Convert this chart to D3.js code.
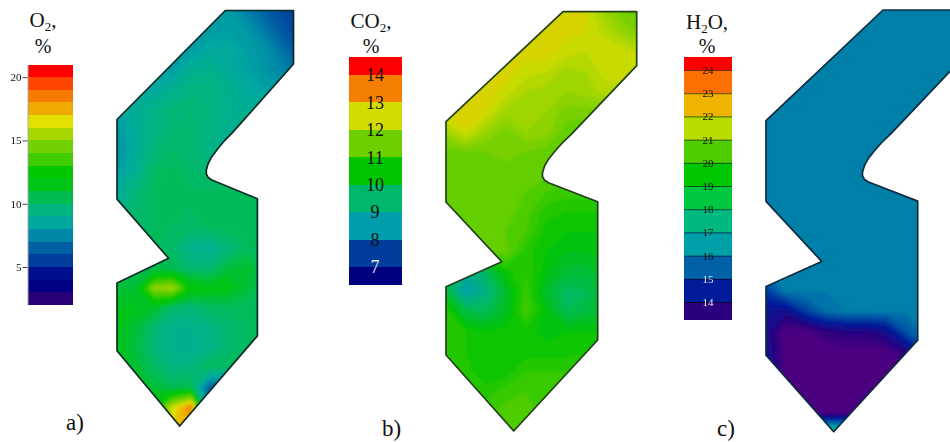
<!DOCTYPE html>
<html>
<head>
<meta charset="utf-8">
<script src="https://cdn.jsdelivr.net/npm/d3@7"></script>
<style>
body { margin: 0; background: #fff; }
text { font-family: "Liberation Serif", serif; fill: #111; }
</style>
</head>
<body>
<div id="my_dataviz"></div>
<script>
// furnace outline in metres-like units, shared by the three panels
var outlineX = [11.7, 19.07, 19.07, 12.5, 11.6, 10.85, 10.25, 9.85, 9.65, 9.65, 9.85, 10.25, 15.17, 15.17, 6.77, 0, 0, 5.57, 0, 0]
var outlineY = [0, 0, 5.4, 12.3, 13.15, 14.0, 14.75, 15.45, 16.1, 16.5, 16.85, 17.1, 19.0, 32.83, 41.93, 34.33, 27.5, 25.0, 19.03, 11.0]

// colour keys: value at the middle of each legend band
var o2Levels = [2.5, 3.5, 4.5, 5.5, 6.5, 7.5, 8.5, 9.5, 10.5, 11.5, 12.5, 13.5, 14.5, 15.5, 16.5, 17.5, 18.5, 19.5, 20.5]
var o2Colors = ["#2a0078", "#000084", "#00108c", "#003c9c", "#0060a4", "#0088a8", "#00a8a0", "#00b480", "#00bc50", "#00c418", "#00c800", "#3fcc00", "#72cf00", "#a6d800", "#e2e000", "#eeaa00", "#f57a00", "#ff4500", "#ff0000"]
var o2Edges = [2, 3, 4, 5, 6, 7, 8, 9, 10, 11, 12, 13, 14, 15, 16, 17, 18, 19, 20, 21]
var o2Ticks = [5, 10, 15, 20]

var co2Levels = [6.5, 7.5, 8.5, 9.5, 10.5, 11.5, 12.5, 13.5, 14.5]
var co2Colors = ["#00007f", "#003c9c", "#009eaa", "#00b86a", "#00c400", "#6ecf00", "#d2dc00", "#f57f00", "#ff0000"]
var co2Edges = [6.35, 7, 8, 9, 10, 11, 12, 13, 14, 14.65]
var co2Ticks = [7, 8, 9, 10, 11, 12, 13, 14]

var h2oLevels = [13, 13.5, 14.5, 15.5, 16.5, 17.5, 18.5, 19.5, 20.5, 21.5, 22.5, 23.5, 24.5]
var h2oColors = ["#4b0082", "#2a007f", "#001c98", "#0060a8", "#00a0a8", "#00b880", "#00c840", "#00c800", "#50cc00", "#b8dc00", "#eeb400", "#fb6f00", "#ff0000"]
var h2oEdges = [13.22, 14, 15, 16, 17, 18, 19, 20, 21, 22, 23, 24, 24.56]
var h2oTicks = [14, 15, 16, 17, 18, 19, 20, 21, 22, 23, 24]

// concentrations, rows every 2 units down, columns every 2 units across
var o2Field = [
    [8.1, 8.1, 8.1, 8.1, 8.1, 8.1, 8.1, 7.3, 6.5, 5.8, 5.2],
    [8.1, 8.1, 8.1, 8.1, 8.1, 8.1, 8.2, 8.0, 7.1, 6.2, 5.6],
    [8.1, 8.1, 8.1, 8.1, 8.2, 8.6, 8.6, 8.2, 7.8, 6.9, 6.0],
    [8.2, 8.2, 8.2, 8.2, 9.0, 9.2, 8.8, 8.3, 7.9, 7.4, 6.8],
    [8.2, 8.3, 8.6, 9.1, 9.5, 9.5, 9.1, 8.7, 8.3, 8.0, 8.0],
    [8.3, 8.9, 9.3, 9.7, 9.8, 9.6, 9.2, 9.0, 9.0, 9.0, 9.0],
    [8.0, 8.8, 9.5, 9.8, 9.8, 9.5, 9.1, 9.0, 9.0, 9.0, 9.0],
    [7.8, 8.7, 9.7, 10.0, 9.9, 9.4, 9.0, 9.0, 9.0, 9.0, 9.0],
    [8.0, 9.0, 10.1, 10.3, 10.0, 9.7, 9.5, 9.5, 9.5, 9.5, 9.5],
    [8.6, 9.6, 10.2, 10.2, 10.2, 10.2, 10.2, 10.2, 10.2, 10.2, 10.2],
    [9.2, 9.9, 10.2, 10.2, 10.2, 10.2, 10.2, 10.2, 10.2, 10.2, 10.2],
    [9.7, 10.0, 10.2, 10.2, 10.0, 10.2, 10.2, 10.2, 10.2, 10.2, 10.2],
    [10.2, 10.2, 10.2, 10.0, 9.2, 9.0, 9.7, 10.2, 10.2, 10.2, 10.2],
    [10.4, 10.4, 10.5, 10.5, 9.8, 9.8, 10.9, 11.2, 10.4, 10.2, 10.2],
    [11.0, 11.0, 15.0, 15.5, 12.2, 11.8, 11.8, 11.0, 10.3, 10.2, 10.2],
    [11.4, 11.4, 11.2, 10.0, 9.7, 10.2, 10.2, 10.2, 10.2, 10.2, 10.2],
    [11.5, 11.0, 9.8, 9.2, 9.2, 9.4, 9.9, 10.2, 10.2, 10.2, 10.2],
    [11.5, 10.8, 9.7, 9.1, 9.0, 9.3, 9.9, 10.2, 10.2, 10.2, 10.2],
    [11.4, 11.1, 10.2, 9.5, 9.7, 10.3, 10.2, 10.2, 10.2, 10.2, 10.2],
    [11.4, 11.4, 10.9, 10.4, 10.5, 6.5, 6.5, 6.5, 6.5, 6.5, 6.5],
    [11.5, 11.5, 12.2, 16.0, 18.4, 7.0, 7.0, 7.0, 7.0, 7.0, 7.0],
    [12.0, 12.0, 14.0, 17.0, 17.5, 7.0, 7.0, 7.0, 7.0, 7.0, 7.0]
]

var co2Field = [
    [12.5, 12.5, 12.5, 12.5, 12.5, 12.5, 12.6, 12.5, 11.9, 11.5, 11.3],
    [12.5, 12.5, 12.5, 12.5, 12.5, 12.5, 12.6, 12.5, 12.2, 11.8, 11.6],
    [12.5, 12.5, 12.5, 12.5, 12.6, 12.7, 12.4, 12.3, 12.5, 12.4, 12.2],
    [12.5, 12.5, 12.5, 12.6, 12.4, 12.3, 12.0, 12.1, 12.4, 12.4, 12.4],
    [12.6, 12.6, 12.7, 12.4, 12.1, 12.0, 11.9, 12.0, 12.2, 12.2, 12.2],
    [12.6, 12.7, 12.5, 12.0, 12.0, 11.9, 11.6, 11.6, 11.6, 11.6, 11.6],
    [12.0, 12.5, 11.9, 11.6, 11.9, 11.8, 11.4, 11.3, 11.3, 11.3, 11.3],
    [11.4, 11.5, 11.5, 11.6, 11.5, 11.4, 11.3, 11.3, 11.3, 11.3, 11.3],
    [11.4, 11.4, 11.4, 11.4, 11.4, 11.4, 11.3, 11.3, 11.3, 11.3, 11.3],
    [11.4, 11.4, 11.4, 11.4, 11.3, 11.1, 11.0, 11.0, 11.0, 11.0, 11.0],
    [11.4, 11.4, 11.4, 11.4, 11.2, 10.8, 10.7, 10.7, 10.7, 10.7, 10.7],
    [11.4, 11.4, 11.4, 11.3, 11.1, 10.6, 10.5, 10.5, 10.5, 10.5, 10.5],
    [11.3, 11.3, 11.3, 11.4, 10.8, 10.5, 10.3, 10.3, 10.4, 10.4, 10.4],
    [9.6, 8.9, 9.6, 10.6, 10.9, 10.4, 10.0, 10.0, 10.2, 10.2, 10.2],
    [10.0, 8.5, 9.2, 10.1, 11.0, 10.1, 9.6, 9.7, 10.0, 10.0, 10.0],
    [10.8, 9.9, 9.7, 10.2, 11.1, 10.4, 9.7, 9.9, 10.1, 10.1, 10.1],
    [10.9, 10.7, 10.5, 10.6, 10.6, 10.4, 10.5, 10.5, 10.5, 10.5, 10.5],
    [10.9, 10.7, 10.5, 10.5, 10.6, 10.6, 10.6, 10.7, 10.7, 10.7, 10.7],
    [10.9, 10.8, 10.5, 10.6, 10.9, 10.9, 10.9, 10.9, 10.9, 10.9, 10.9],
    [11.0, 10.9, 10.8, 11.0, 11.1, 11.0, 11.0, 11.0, 11.0, 11.0, 11.0],
    [11.0, 11.0, 11.0, 11.2, 11.2, 11.0, 11.0, 11.0, 11.0, 11.0, 11.0],
    [11.1, 11.1, 11.1, 11.1, 11.1, 11.1, 11.1, 11.1, 11.1, 11.1, 11.1]
]

var h2oField = [
    [15.9, 15.9, 15.9, 15.9, 15.9, 15.9, 15.9, 15.9, 15.9, 15.9, 15.9],
    [15.9, 15.9, 15.9, 15.9, 15.9, 15.9, 15.9, 15.9, 15.9, 15.9, 15.9],
    [15.9, 15.9, 15.9, 15.9, 15.9, 15.9, 15.9, 15.9, 15.9, 15.9, 15.9],
    [15.9, 15.9, 15.9, 15.9, 15.9, 15.9, 15.9, 15.9, 15.9, 15.9, 15.9],
    [15.9, 15.9, 15.9, 15.9, 15.9, 15.9, 15.9, 15.9, 15.9, 15.9, 15.9],
    [15.9, 15.9, 15.9, 15.9, 15.9, 15.9, 15.9, 15.9, 15.9, 15.9, 15.9],
    [15.9, 15.9, 15.9, 15.9, 15.9, 15.9, 15.9, 15.9, 15.9, 15.9, 15.9],
    [15.9, 15.9, 15.9, 15.9, 15.9, 15.9, 15.9, 15.9, 15.9, 15.9, 15.9],
    [15.9, 15.9, 15.9, 15.9, 15.9, 15.9, 15.9, 15.9, 15.9, 15.9, 15.9],
    [15.9, 15.9, 15.9, 15.9, 15.9, 15.9, 15.9, 15.9, 15.9, 15.9, 15.9],
    [15.9, 15.9, 15.9, 15.9, 15.9, 15.9, 15.9, 15.9, 15.9, 15.9, 15.9],
    [15.9, 15.9, 15.9, 15.9, 15.9, 15.9, 15.9, 15.9, 15.9, 15.9, 15.9],
    [15.9, 15.9, 15.9, 15.9, 15.9, 15.9, 15.9, 15.9, 15.9, 15.9, 15.9],
    [15.9, 15.9, 15.9, 15.9, 15.9, 15.9, 15.9, 15.9, 15.9, 15.9, 15.9],
    [14.9, 15.9, 15.9, 15.9, 15.9, 15.9, 15.9, 15.9, 15.9, 15.9, 15.9],
    [14.2, 13.9, 15.0, 15.7, 15.9, 15.9, 15.9, 15.9, 15.9, 15.9, 15.9],
    [13.9, 12.9, 12.9, 13.4, 13.6, 13.6, 14.0, 15.3, 15.9, 15.9, 15.9],
    [14.1, 12.9, 12.9, 12.9, 12.9, 12.9, 12.9, 13.6, 15.0, 15.9, 15.9],
    [14.2, 12.9, 12.9, 12.9, 12.9, 12.9, 12.9, 12.9, 13.2, 13.2, 13.2],
    [12.9, 12.9, 12.9, 12.9, 12.9, 12.9, 12.9, 12.9, 12.9, 12.9, 12.9],
    [12.9, 12.9, 12.9, 12.9, 12.9, 12.9, 12.9, 12.9, 12.9, 12.9, 12.9],
    [18.0, 18.0, 18.0, 18.0, 18.0, 18.0, 18.0, 18.0, 18.0, 18.0, 18.0]
]

var width = 950, height = 442
var gridStep = 2

var svg = d3.select("#my_dataviz")
    .append("svg")
    .attr("width", width)
    .attr("height", height)
    .style("display", "block")

var defs = svg.append("defs")

// region is oversized because some filtered groups sit in a translated space
function addBlur(id, dev) {
    defs.append("filter")
        .attr("id", id)
        .attr("filterUnits", "userSpaceOnUse")
        .attr("x", -width).attr("y", -height)
        .attr("width", width * 3).attr("height", height * 3)
        .append("feGaussianBlur")
        .attr("stdDeviation", dev)
}
addBlur("blurFieldA", 1.7)
addBlur("blurFieldB", 1.6)
addBlur("blurFieldC", 1.0)
addBlur("blurEdge", 0.5)
addBlur("blurSmall", 0.45)

function drawField(p, i) {
    var x = d3.scaleLinear().domain([0, 19.07]).range(p.xRange)
    var y = d3.scaleLinear().domain([0, 41.93]).range(p.yRange)
    var color = d3.scaleLinear().domain(p.levels).range(p.colors).clamp(true)

    var outline = d3.line()
        .x(function(k) { return x(outlineX[k]) })
        .y(function(k) { return y(outlineY[k]) })
    var outlinePath = outline(d3.range(outlineX.length)) + "Z"

    defs.append("clipPath")
        .attr("id", "furnace" + i)
        .append("path")
        .attr("d", outlinePath)

    // d3.contours puts grid value i at i + 0.5
    var project = d3.geoPath(d3.geoTransform({
        point: function(gx, gy) {
            this.stream.point(x((gx - 0.5) * gridStep), y((gy - 0.5) * gridStep))
        }
    }))

    var rows = p.field.length, cols = p.field[0].length
    var flat = d3.merge(p.field)
    var thresholds = d3.range(d3.min(flat), d3.max(flat), 0.2)
    var contours = d3.contours()
        .size([cols, rows])
        .smooth(true)
        .thresholds(thresholds)(flat)

    svg.append("g")
        .attr("clip-path", "url(#furnace" + i + ")")
        .append("g")
        .attr("filter", "url(#" + p.blur + ")")
        .selectAll("path")
        .data(contours)
        .enter()
        .append("path")
        .attr("d", project)
        .attr("fill", function(d) { return color(d.value + 0.1) })

    svg.append("path")
        .attr("d", outlinePath)
        .attr("fill", "none")
        .attr("stroke", p.edge)
        .attr("stroke-width", 1.7)
        .attr("stroke-linejoin", "round")
        .attr("filter", "url(#blurEdge)")

    return color
}

function drawLegend(p, color) {
    var y = d3.scaleLinear().domain(p.scaleDomain).range(p.scaleRange)
    var bands = d3.pairs(p.edges)

    var g = svg.append("g")
    if (p.soft) g.attr("filter", "url(#blurEdge)")
    g.selectAll("rect")
        .data(bands)
        .enter()
        .append("rect")
        .attr("x", p.barX)
        .attr("width", p.barW)
        .attr("y", function(d) { return y(d[1]) })
        .attr("height", function(d) { return y(d[0]) - y(d[1]) })
        .attr("fill", function(d) { return color(Math.floor(d[0]) + 0.5) })
        .attr("shape-rendering", "crispEdges")

    var axisG = svg.append("g")
        .attr("transform", "translate(" + p.axisX + ",0)")
        .call(d3.axisLeft(y).tickValues(p.ticks).tickSize(p.tickLen).tickSizeOuter(0).tickPadding(1))
    if (p.soft) axisG.attr("filter", "url(#blurSmall)")
    axisG.attr("font-size", p.tickFont).attr("font-family", null)
    axisG.selectAll("line").attr("stroke", p.tickStroke)
    axisG.select(".domain").attr("stroke", p.domainStroke)
    if (p.labelX !== undefined) {
        axisG.selectAll("text")
            .attr("x", p.labelX)
            .style("text-anchor", "middle")
            .style("fill", function(d) { return d <= p.lightBelow ? "#e8e8f4" : "#111" })
    }
}

function drawTitle(p) {
    var t = svg.append("text")
        .attr("x", p.titleX)
        .attr("y", p.titleY)
        .attr("text-anchor", "middle")
        .attr("font-size", 21)
    t.append("tspan").text(p.title[0])
    t.append("tspan").attr("font-size", 13).attr("dy", 4).text("2")
    t.append("tspan").attr("dy", -4).text(p.title[1])

    svg.append("text")
        .attr("x", p.titleX)
        .attr("y", 53)
        .attr("text-anchor", "middle")
        .attr("font-size", 20)
        .text("%")

    svg.append("text")
        .attr("x", p.tagX)
        .attr("y", p.tagY)
        .attr("font-size", 23)
        .text(p.tag)
}

var panels = [{
    field: o2Field, levels: o2Levels, colors: o2Colors, edges: o2Edges, ticks: o2Ticks,
    xRange: [117, 293.5], yRange: [10.5, 426], edge: "#0c2a24", blur: "blurFieldA",
    scaleDomain: [2, 21], scaleRange: [305, 64.5],
    barX: 27.5, barW: 45, axisX: 27.5, tickLen: 5, tickFont: 11, tickStroke: "#444", domainStroke: "#aaa", soft: true,
    title: ["O", ","], titleX: 43, titleY: 27, tag: "a)", tagX: 66, tagY: 430
}, {
    field: co2Field, levels: co2Levels, colors: co2Colors, edges: co2Edges, ticks: co2Ticks,
    xRange: [446, 636.7], yRange: [11.7, 431], edge: "#24401a", blur: "blurFieldB",
    scaleDomain: [6.35, 14.65], scaleRange: [285, 57],
    barX: 349, barW: 53, axisX: 349, tickLen: 0, tickFont: 18, tickStroke: "none", domainStroke: "none",
    labelX: 26, lightBelow: 7,
    title: ["CO", ","], titleX: 371, titleY: 28, tag: "b)", tagX: 382, tagY: 436
}, {
    field: h2oField, levels: h2oLevels, colors: h2oColors, edges: h2oEdges, ticks: h2oTicks,
    xRange: [766, 956.7], yRange: [10, 431.7], edge: "#0b2b40", blur: "blurFieldC",
    scaleDomain: [14, 24], scaleRange: [302, 70],
    barX: 684, barW: 48, axisX: 732, tickLen: 48, tickFont: 11, tickStroke: "rgba(0,0,0,.6)", domainStroke: "none", soft: true,
    labelX: -24, lightBelow: 15,
    title: ["H", "O,"], titleX: 707, titleY: 29, tag: "c)", tagX: 717, tagY: 436
}]

panels.forEach(function(p, i) {
    var color = drawField(p, i)
    drawLegend(p, color)
    drawTitle(p)
})
</script>
</body>
</html>
